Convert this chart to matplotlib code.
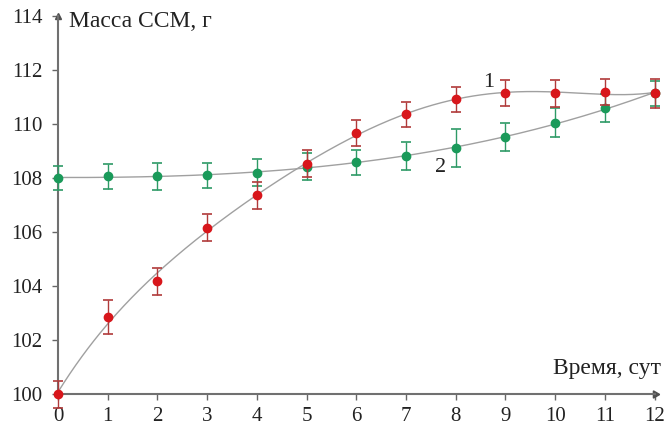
import numpy as np
import matplotlib
matplotlib.use("Agg")
import matplotlib.pyplot as plt

days = [0, 1, 2, 3, 4, 5, 6, 7, 8, 9, 10, 11, 12]
mass1 = [100.0, 102.85, 104.18, 106.16, 107.37, 108.52, 109.67, 110.36, 110.91, 111.14, 111.14, 111.19, 111.14]
err1 = [0.5, 0.62, 0.5, 0.5, 0.5, 0.5, 0.48, 0.47, 0.48, 0.49, 0.5, 0.48, 0.53]
mass2 = [107.99, 108.07, 108.07, 108.1, 108.2, 108.42, 108.58, 108.81, 109.1, 109.53, 110.05, 110.58, 111.14]
err2 = [0.45, 0.46, 0.5, 0.47, 0.5, 0.5, 0.45, 0.52, 0.7, 0.52, 0.53, 0.52, 0.47]
xticks = list(range(0, 13))
yticks = [100, 102, 104, 106, 108, 110, 112, 114]

plt.rcParams['font.family'] = ['Liberation Serif', 'DejaVu Serif']

fig = plt.figure(figsize=(6.66, 4.30), dpi=100)
ax = fig.add_axes([0.087, 0.0837, 0.896, 0.879])

# trend curves
xs = np.linspace(0, 12, 300)
p1 = np.polyfit(days, mass1, 5)
p2 = np.polyfit(days, mass2, 3)
ax.plot(xs, np.polyval(p1, xs), color='#a0a0a0', lw=1.0, zorder=2, clip_on=False)
ax.plot(xs, np.polyval(p2, xs), color='#a0a0a0', lw=1.0, zorder=2, clip_on=False)

e1 = ax.errorbar(days, mass1, yerr=err1, fmt='o', color='#d8161b', ms=6,
                 ecolor='#b03a3a', elinewidth=1.0, capsize=3.5, capthick=1.2, zorder=4)
e2 = ax.errorbar(days, mass2, yerr=err2, fmt='o', color='#1a9a5a', ms=6,
                 ecolor='#2e9a66', elinewidth=1.0, capsize=3.5, capthick=1.2, zorder=3)
for cont in (e1, e2):
    cont.lines[0].set_clip_on(False)
    for art in cont.lines[1]:
        art.set_clip_on(False)
    for art in cont.lines[2]:
        art.set_clip_on(False)

ax.set_xlim(0, 12)
ax.set_ylim(100, 114)
ax.set_xticks(xticks)
ax.set_yticks(yticks)
ax.tick_params(labelsize=15, length=4, width=1, pad=5, direction='out')
ax.tick_params(axis='x', colors='#666666', labelcolor='#222222')
ax.tick_params(axis='y', colors='#666666', labelcolor='#222222', pad=7)

for s in ('top', 'right'):
    ax.spines[s].set_visible(False)
for s in ('left', 'bottom'):
    ax.spines[s].set_color('#707070')
    ax.spines[s].set_linewidth(1.5)

ax.plot(1, 0, marker=(3, 0, -90), ms=6, color='#505050', transform=ax.transAxes, clip_on=False)
ax.plot(0, 1, marker='^', ms=5, color='#505050', transform=ax.transAxes, clip_on=False)

ax.text(0.22, 113.8, 'Масса ССМ, г', fontsize=17, va='center', ha='left', color='#222222')
ax.text(12.12, 100.55, 'Время, сут', fontsize=17, va='bottom', ha='right', color='#222222')
ax.text(8.66, 111.55, '1', fontsize=16, ha='center', va='center', color='#222222')
ax.text(7.7, 108.4, '2', fontsize=16, ha='center', va='center', color='#222222')

fig.savefig('out.png', dpi=100)
